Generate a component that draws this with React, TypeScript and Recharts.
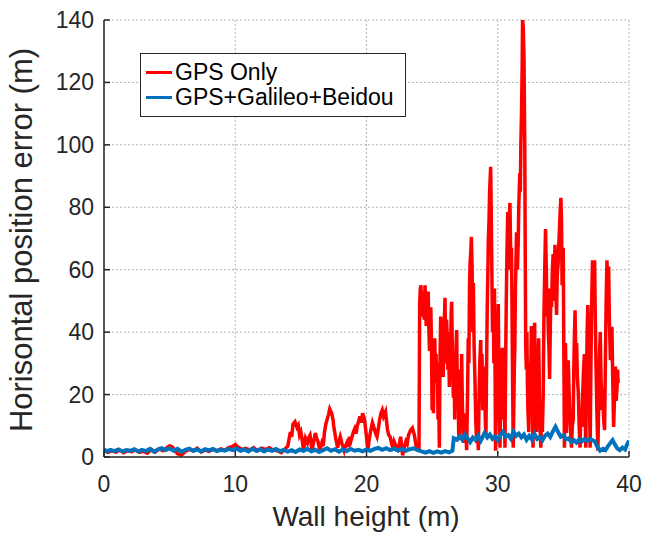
import React from 'react';
import { LineChart, Line, XAxis, YAxis, CartesianGrid, Legend } from 'recharts';

const xTicks = [0, 10, 20, 30, 40];
const yTicks = [0, 20, 40, 60, 80, 100, 120, 140];
const seriesNames = ['GPS Only', 'GPS+Galileo+Beidou'];

// [wall height (m), horizontal error (m)]
const gpsOnly: [number, number][] = [
  [0, 2.2], [0.3, 1.5], [0.6, 2.0], [0.9, 1.6], [1.2, 2.2], [1.5, 1.4], [1.8, 2.0], [2.1, 1.7], [2.4, 2.3], [2.7, 1.5],
  [3.0, 1.8], [3.3, 1.2], [3.6, 2.4], [3.9, 1.6], [4.2, 2.6], [4.5, 2.0], [4.8, 3.0], [5.0, 3.6], [5.2, 3.2], [5.4, 2.2],
  [5.6, 1.0], [5.9, 0.6], [6.2, 1.8], [6.5, 2.4], [6.8, 2.0], [7.1, 2.8], [7.4, 1.6], [7.7, 2.2], [8.0, 1.8], [8.3, 2.4],
  [8.6, 2.0], [8.9, 2.6], [9.2, 2.2], [9.5, 3.0], [9.8, 3.4], [10.0, 4.0], [10.2, 3.2], [10.5, 2.4], [10.8, 2.8], [11.1, 2.2],
  [11.4, 3.0], [11.7, 2.0], [12.0, 2.8], [12.3, 2.4], [12.6, 3.0], [12.9, 2.2], [13.2, 2.0], [13.5, 1.4], [13.8, 2.6], [14.0, 3.5],
  [14.2, 8.0], [14.3, 6.5], [14.4, 10.5], [14.55, 11.3], [14.7, 9.5], [14.8, 10.2], [14.9, 7.0], [15.0, 8.0], [15.1, 5.5], [15.2, 2.0],
  [15.35, 6.0], [15.5, 4.5], [15.6, 6.2], [15.7, 7.0], [15.85, 2.0], [16.0, 5.5], [16.1, 7.7], [16.2, 6.0], [16.3, 5.0], [16.45, 2.0],
  [16.6, 4.5], [16.7, 3.5], [16.8, 8.0], [16.9, 10.5], [17.0, 12.0], [17.1, 13.5], [17.2, 15.4], [17.35, 14.0], [17.45, 12.0], [17.5, 10.0],
  [17.65, 6.0], [17.8, 3.0], [17.9, 5.0], [18.0, 6.5], [18.15, 4.0], [18.3, 2.0], [18.4, 3.5], [18.5, 4.5], [18.6, 3.2], [18.7, 6.5],
  [18.8, 5.0], [18.9, 6.5], [19.0, 8.0], [19.1, 9.0], [19.2, 7.5], [19.3, 10.0], [19.4, 11.5], [19.5, 13.0], [19.6, 11.0], [19.7, 14.0],
  [19.85, 12.0], [20.0, 6.5], [20.1, 2.0], [20.2, 5.5], [20.3, 8.0], [20.45, 11.0], [20.6, 9.0], [20.7, 7.5], [20.8, 6.5], [20.9, 9.0],
  [21.0, 12.0], [21.1, 14.0], [21.2, 15.0], [21.3, 13.0], [21.45, 14.5], [21.6, 8.7], [21.7, 7.0], [21.8, 6.5], [21.9, 4.5], [22.0, 3.0],
  [22.1, 5.0], [22.2, 4.0], [22.3, 3.2], [22.4, 2.5], [22.5, 4.0], [22.6, 6.5], [22.75, 0.5], [22.9, 3.5], [23.0, 5.0], [23.1, 4.2],
  [23.2, 7.0], [23.35, 8.5], [23.5, 9.3], [23.65, 7.0], [23.8, 3.0], [23.95, 2.5], [24.0, 2.0],
  [24.05, 49], [24.1, 54], [24.15, 55], [24.2, 47], [24.25, 45], [24.3, 53], [24.35, 52], [24.4, 44], [24.46, 55], [24.5, 48],
  [24.55, 42], [24.6, 50], [24.65, 46], [24.7, 53], [24.75, 41], [24.8, 34], [24.85, 45], [24.9, 48], [24.95, 36], [25.0, 15],
  [25.05, 22], [25.1, 14], [25.15, 30], [25.2, 38], [25.25, 26], [25.3, 33], [25.35, 23.7], [25.4, 30], [25.45, 12], [25.5, 20],
  [25.55, 3], [25.6, 30], [25.65, 45], [25.7, 35], [25.75, 28], [25.8, 40], [25.85, 25.6], [25.9, 42], [25.95, 46], [25.98, 51],
  [26.05, 30], [26.1, 44], [26.16, 38], [26.2, 28], [26.25, 40], [26.31, 22.4], [26.35, 35], [26.4, 30], [26.45, 46], [26.49, 49.7],
  [26.55, 32], [26.62, 19], [26.67, 30], [26.72, 12], [26.78, 26], [26.83, 36], [26.87, 40.7], [26.92, 20], [26.97, 28], [27.02, 8],
  [27.07, 5.4], [27.12, 18], [27.17, 22], [27.2, 12], [27.25, 33], [27.3, 18], [27.38, 4.5], [27.45, 14], [27.5, 6], [27.55, 10],
  [27.63, 2.2], [27.7, 20], [27.75, 38], [27.8, 30], [27.85, 55], [27.89, 62], [27.95, 66], [27.99, 70.5], [28.05, 60], [28.1, 40],
  [28.14, 55.7], [28.2, 35], [28.27, 23.7], [28.32, 12], [28.39, 4.5], [28.45, 10], [28.52, 2.2], [28.58, 20], [28.63, 30], [28.7, 37.5],
  [28.75, 22], [28.8, 33], [28.85, 15], [28.9, 29], [28.95, 18], [29.0, 25], [29.05, 12], [29.1, 6.4], [29.15, 30], [29.2, 48],
  [29.25, 60], [29.28, 69.5], [29.33, 75], [29.38, 85], [29.46, 93], [29.5, 80], [29.55, 60], [29.6, 40], [29.67, 47], [29.7, 30],
  [29.75, 54], [29.8, 25], [29.83, 2], [29.88, 18], [29.93, 40], [29.98, 29], [30.04, 49], [30.08, 30], [30.12, 15], [30.17, 3],
  [30.22, 20], [30.28, 28], [30.35, 35], [30.4, 22], [30.45, 12], [30.5, 18], [30.55, 3], [30.6, 30], [30.65, 50], [30.7, 65],
  [30.76, 78.5], [30.8, 60], [30.85, 75], [30.93, 81.4], [31.0, 60], [31.05, 67], [31.1, 40], [31.14, 20], [31.18, 3], [31.22, 15],
  [31.26, 28], [31.3, 35], [31.35, 55], [31.4, 65], [31.43, 72], [31.5, 60], [31.56, 69], [31.6, 80], [31.68, 91], [31.72, 85],
  [31.76, 100], [31.81, 110], [31.86, 125], [31.89, 140], [31.94, 138], [32.0, 128], [32.06, 99], [32.1, 60], [32.13, 35], [32.18, 28],
  [32.22, 40], [32.26, 24], [32.3, 15], [32.36, 8], [32.4, 20], [32.45, 30], [32.5, 22], [32.56, 42], [32.6, 25], [32.65, 12],
  [32.69, 3], [32.73, 20], [32.77, 35], [32.81, 43], [32.85, 28], [32.9, 18], [32.95, 8], [33.0, 20], [33.05, 30], [33.12, 38],
  [33.17, 20], [33.22, 10], [33.28, 3], [33.33, 12], [33.4, 8], [33.46, 19], [33.52, 45], [33.58, 60], [33.64, 73], [33.7, 60],
  [33.75, 45], [33.79, 54], [33.85, 40], [33.9, 35], [33.95, 25], [34.0, 40], [34.05, 54], [34.1, 48], [34.16, 60], [34.22, 65],
  [34.28, 50], [34.32, 60], [34.36, 68], [34.42, 55], [34.48, 45.5], [34.53, 58], [34.6, 62], [34.66, 69], [34.72, 75], [34.77, 80],
  [34.81, 83], [34.86, 75], [34.9, 55], [34.95, 60], [34.99, 67], [35.04, 30], [35.08, 3], [35.12, 20], [35.16, 36.5], [35.2, 25],
  [35.24, 7.7], [35.3, 20], [35.37, 31], [35.43, 22], [35.5, 13], [35.56, 8], [35.62, 3], [35.68, 10], [35.75, 12], [35.8, 30],
  [35.85, 40], [35.89, 47], [35.95, 30], [36.01, 36.5], [36.07, 25], [36.14, 20.5], [36.2, 10], [36.27, 3], [36.33, 14], [36.4, 9.6],
  [36.47, 20], [36.53, 27], [36.6, 33], [36.65, 15], [36.71, 3], [36.76, 25], [36.81, 40], [36.86, 48.7], [36.91, 40], [36.96, 31],
  [37.0, 15], [37.04, 3], [37.1, 30], [37.16, 50], [37.22, 63], [37.3, 55], [37.38, 63], [37.43, 45], [37.48, 31], [37.55, 15],
  [37.63, 2], [37.7, 20], [37.76, 33], [37.81, 40], [37.87, 25], [37.94, 15], [38.0, 22], [38.07, 12], [38.14, 8.6], [38.2, 30],
  [38.26, 50], [38.32, 63], [38.38, 55], [38.45, 61], [38.5, 45], [38.58, 31], [38.63, 38], [38.7, 41.7], [38.76, 25], [38.83, 9.6],
  [38.9, 20], [38.96, 29], [39.02, 18], [39.09, 22.4], [39.13, 28], [39.17, 23.7],
];

const gpsGalBei: [number, number][] = [
  [0, 2.5], [0.2, 1.8], [0.5, 2.3], [0.8, 1.9], [1.1, 2.4], [1.4, 1.8], [1.7, 2.2], [2.0, 2.0], [2.3, 2.5], [2.6, 1.8],
  [2.9, 2.3], [3.2, 1.9], [3.5, 2.6], [3.8, 1.7], [4.1, 2.4], [4.4, 2.8], [4.7, 2.2], [5.0, 2.8], [5.3, 2.0], [5.6, 2.6],
  [5.9, 1.7], [6.2, 2.3], [6.5, 2.7], [6.8, 2.0], [7.1, 2.4], [7.4, 1.8], [7.7, 2.5], [8.0, 2.1], [8.3, 2.6], [8.6, 1.9],
  [8.9, 2.3], [9.2, 2.0], [9.5, 2.6], [9.8, 2.2], [10.1, 2.7], [10.4, 2.0], [10.7, 2.4], [11.0, 1.8], [11.3, 2.6], [11.6, 2.0],
  [11.9, 2.5], [12.2, 1.8], [12.5, 2.4], [12.8, 2.0], [13.1, 2.6], [13.4, 1.9], [13.7, 2.3], [14.0, 1.7], [14.3, 2.2], [14.6, 1.6],
  [14.9, 2.4], [15.2, 2.0], [15.5, 2.6], [15.8, 1.8], [16.1, 2.3], [16.4, 1.6], [16.7, 2.2], [17.0, 2.8], [17.3, 2.0], [17.6, 2.5],
  [17.9, 1.7], [18.2, 2.4], [18.5, 1.9], [18.8, 2.6], [19.1, 2.0], [19.4, 2.3], [19.7, 1.8], [20.0, 2.4], [20.3, 2.0], [20.6, 2.6],
  [20.9, 2.9], [21.2, 2.3], [21.5, 2.8], [21.8, 2.2], [22.1, 2.7], [22.4, 2.1], [22.7, 2.6], [23.0, 2.0], [23.3, 2.5], [23.6, 2.8],
  [23.9, 2.2], [24.2, 1.8], [24.5, 1.4], [24.8, 1.9], [25.1, 1.3], [25.4, 1.8], [25.7, 1.4], [26.0, 1.9], [26.3, 1.5], [26.55, 2.0],
  [26.65, 6.0], [26.9, 5.5], [27.1, 6.7], [27.3, 5.6], [27.5, 7.2], [27.7, 6.0], [27.9, 4.8], [28.1, 6.2], [28.3, 5.5], [28.5, 6.8],
  [28.7, 5.2], [29.0, 7.7], [29.2, 6.3], [29.4, 7.2], [29.6, 5.8], [29.8, 6.6], [30.0, 5.4], [30.2, 7.0], [30.4, 8.1], [30.6, 6.5],
  [30.8, 7.0], [31.0, 5.8], [31.2, 8.2], [31.4, 6.8], [31.6, 7.5], [31.8, 6.3], [32.0, 7.2], [32.2, 5.5], [32.4, 6.8], [32.6, 5.6],
  [32.8, 7.4], [33.0, 5.8], [33.2, 6.4], [33.4, 5.3], [33.6, 6.8], [33.8, 7.5], [34.0, 6.4], [34.2, 8.2], [34.4, 9.7], [34.6, 8.0],
  [34.8, 6.5], [35.0, 7.0], [35.2, 5.6], [35.4, 6.0], [35.6, 4.8], [35.8, 5.4], [36.0, 4.6], [36.2, 5.6], [36.4, 5.0], [36.6, 5.7],
  [36.8, 5.2], [37.0, 5.8], [37.2, 5.4], [37.4, 5.0], [37.6, 3.2], [37.8, 2.0], [38.0, 2.6], [38.2, 2.2], [38.4, 3.5], [38.6, 4.6],
  [38.75, 5.4], [38.9, 4.2], [39.1, 2.8], [39.3, 2.2], [39.5, 3.0], [39.7, 2.4], [39.85, 4.0], [40, 5.2],
];

const redData = gpsOnly.map(([x, y]) => ({ x, y }));
const blueData = gpsGalBei.map(([x, y]) => ({ x, y }));

const AXIS = '#262626';
const FONT = '"Liberation Sans", Arial, sans-serif';
const RED = '#ff0000';
const BLUE = '#0072bd';

const BottomTick = (props: any) => {
  const { x, y, payload } = props;
  return (
    <g>
      <line x1={x} x2={x} y1={y} y2={y - 6} stroke={AXIS} strokeWidth={1.5} />
      <text x={x} y={y + 35} textAnchor="middle" fontSize={23} fill={AXIS} fontFamily={FONT}>{payload.value}</text>
    </g>
  );
};
const TopTick = (props: any) => {
  const { x, y } = props;
  return <line x1={x} x2={x} y1={y} y2={y + 6} stroke={AXIS} strokeWidth={1.5} />;
};
const LeftTick = (props: any) => {
  const { x, y, payload } = props;
  return (
    <g>
      <line x1={x} x2={x + 6} y1={y} y2={y} stroke={AXIS} strokeWidth={1.5} />
      <text x={x - 10} y={y + 8} textAnchor="end" fontSize={23} fill={AXIS} fontFamily={FONT}>{payload.value}</text>
    </g>
  );
};
const RightTick = (props: any) => {
  const { x, y } = props;
  return <line x1={x} x2={x - 6} y1={y} y2={y} stroke={AXIS} strokeWidth={1.5} />;
};

const LegendBox = () => (
  <div style={{ border: `1.5px solid ${AXIS}`, background: '#fff', width: 266, height: 64, boxSizing: 'border-box', paddingTop: 6, fontFamily: FONT }}>
    {seriesNames.map((n, i) => (
      <div key={n} style={{ display: 'flex', alignItems: 'center', height: 25 }}>
        <div style={{ marginLeft: 5, width: 26, height: 3, background: i === 0 ? RED : BLUE }} />
        <span style={{ marginLeft: 3, fontSize: 23, lineHeight: '25px', color: '#000' }}>{n}</span>
      </div>
    ))}
  </div>
);

export default function App() {
  return (
    <div style={{ width: 646, height: 534, background: '#fff', position: 'relative' }}>
      <style>{'body{margin:0;background:#fff}'}</style>
      <LineChart width={646} height={534} margin={{ top: 20, right: 17, left: 0, bottom: 0 }}>
        <CartesianGrid stroke="#b4b4b4" strokeDasharray="2 2" strokeWidth={1} horizontalValues={yTicks} verticalValues={xTicks} />
        <XAxis dataKey="x" type="number" domain={[0, 40]} ticks={xTicks} allowDataOverflow
          height={77} tickSize={0} tickMargin={0} tickLine={false} tick={<BottomTick />}
          axisLine={{ stroke: AXIS, strokeWidth: 1.5 }}
          label={{ content: () => (
            <text x={366} y={526} textAnchor="middle" fontSize={28} fill={AXIS} fontFamily={FONT}>Wall height (m)</text>
          ) }} />
        <XAxis xAxisId="top" orientation="top" dataKey="x" type="number" domain={[0, 40]} ticks={xTicks} allowDataOverflow
          height={0} tickSize={0} tickMargin={0} tickLine={false} tick={<TopTick />}
          axisLine={{ stroke: AXIS, strokeWidth: 1.5 }} />
        <YAxis type="number" domain={[0, 140]} ticks={yTicks} allowDataOverflow
          width={104} tickSize={0} tickMargin={0} tickLine={false} tick={<LeftTick />}
          axisLine={{ stroke: AXIS, strokeWidth: 1.5 }}
          label={{ content: () => (
            <text x={32} y={240} transform="rotate(-90 32 240)" textAnchor="middle" fontSize={31} fill={AXIS} fontFamily={FONT}>Horisontal position error (m)</text>
          ) }} />
        <YAxis yAxisId="right" orientation="right" type="number" domain={[0, 140]} ticks={yTicks} allowDataOverflow
          width={0} tickSize={0} tickMargin={0} tickLine={false} tick={<RightTick />}
          axisLine={{ stroke: AXIS, strokeWidth: 1.5 }} />
        <Legend layout="vertical" align="center" verticalAlign="middle" content={<LegendBox />}
          wrapperStyle={{ left: 140, top: 53, width: 266, height: 64 }} />
        <Line data={redData} dataKey="y" name={seriesNames[0]} stroke={RED} strokeWidth={3.5} dot={false} isAnimationActive={false} />
        <Line data={blueData} dataKey="y" name={seriesNames[1]} stroke={BLUE} strokeWidth={4} dot={false} isAnimationActive={false} />
      </LineChart>
    </div>
  );
}
